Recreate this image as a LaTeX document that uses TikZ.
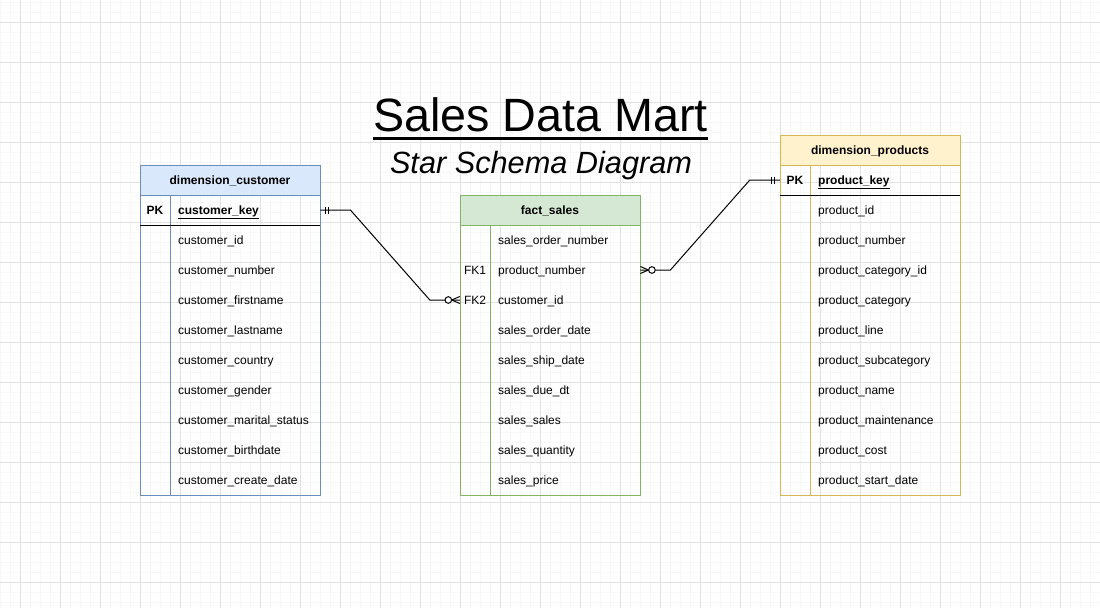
\documentclass[tikz,border=0pt]{standalone}
\usepackage{fontspec}
\setmainfont{Liberation Sans}
\usetikzlibrary{calc}
\definecolor{bluefill}{HTML}{DAE8FC}
\definecolor{bluedraw}{HTML}{6C8EBF}
\definecolor{greenfill}{HTML}{D5E8D4}
\definecolor{greendraw}{HTML}{82B366}
\definecolor{yellowfill}{HTML}{FFF2CC}
\definecolor{yellowdraw}{HTML}{D6B656}
\definecolor{gridmajor}{HTML}{E2E2E2}
\definecolor{gridminor}{HTML}{F7F7F7}
\begin{document}
\begin{tikzpicture}[x=1pt,y=-1pt,
  hdr/.style={minimum width=180pt, minimum height=30pt, inner sep=0pt, text height=9pt, text depth=0pt, font=\fontsize{12}{14}\selectfont\bfseries},
  field/.style={anchor=west, minimum width=150pt, minimum height=30pt, inner xsep=8pt, inner ysep=0pt, text width=134pt, align=left, text height=9pt, text depth=0pt, font=\fontsize{12}{14}\selectfont},
  keycol/.style={minimum width=30pt, minimum height=30pt, inner sep=0pt, text height=9pt, text depth=0pt, font=\fontsize{12}{14}\selectfont},
  frame/.style={minimum width=180pt, anchor=north west, inner sep=0pt},
  conn/.style={draw=black, line width=1pt},
  cardmark/.style={draw=black, line width=1pt},
]
\useasboundingbox (0,0) rectangle (1100,608);
\fill[white] (0,0) rectangle (1100,608);
% grid
\foreach \x in {0,10,...,1100} \draw[gridminor, line width=1pt] (\x,0) -- (\x,608);
\foreach \y in {2,12,...,602} \draw[gridminor, line width=1pt] (0,\y) -- (1100,\y);
\foreach \x in {20,60,...,1100} \draw[gridmajor, line width=1pt] (\x,0) -- (\x,608);
\foreach \y in {22,62,...,602} \draw[gridmajor, line width=1pt] (0,\y) -- (1100,\y);

% title
\node[anchor=base, inner sep=0pt, font=\fontsize{46.7}{50}\selectfont] (title) at (540.5,131) {Sales Data Mart};
\draw[line width=3pt] ([yshift=-7.5pt]title.base west) -- ([yshift=-7.5pt]title.base east);
\node[anchor=base, inner sep=0pt, font=\fontsize{30.7}{34}\selectfont\itshape] (subtitle) at (541,173) {Star Schema Diagram};

% ---------- dimension_customer ----------
\node[frame, draw=bluedraw, minimum height=330pt] (custframe) at (140,165) {};
\node[hdr, fill=bluefill, draw=bluedraw] (custhdr) at (230,180) {dimension\_customer};
\draw[bluedraw, line width=1pt] (170,195) -- (170,495);
\draw[black, line width=1pt] (140,225) -- (320,225);
\node[keycol, font=\fontsize{12}{14}\selectfont\bfseries] (cpk) at (155,210) {PK};
\node[field] (ck) at (170,210) {\underline{\textbf{customer\_key}}};
\foreach \t [count=\i] in {customer\_id, customer\_number, customer\_firstname, customer\_lastname, customer\_country, customer\_gender, customer\_marital\_status, customer\_birthdate, customer\_create\_date}
  \node[field] (c\i) at (170,210+30*\i) {\t};

% ---------- fact_sales ----------
\node[frame, draw=greendraw, minimum height=300pt] (factframe) at (460,195) {};
\node[hdr, fill=greenfill, draw=greendraw] (facthdr) at (550,210) {fact\_sales};
\draw[greendraw, line width=1pt] (490,225) -- (490,495);
\node[keycol] (fk1) at (475,270) {FK1};
\node[keycol] (fk2) at (475,300) {FK2};
\foreach \t [count=\i] in {sales\_order\_number, product\_number, customer\_id, sales\_order\_date, sales\_ship\_date, sales\_due\_dt, sales\_sales, sales\_quantity, sales\_price}
  \node[field] (f\i) at (490,210+30*\i) {\t};

% ---------- dimension_products ----------
\node[frame, draw=yellowdraw, minimum height=360pt] (prodframe) at (780,135) {};
\node[hdr, fill=yellowfill, draw=yellowdraw] (prodhdr) at (870,150) {dimension\_products};
\draw[yellowdraw, line width=1pt] (810,165) -- (810,495);
\draw[black, line width=1pt] (780,195) -- (960,195);
\node[keycol, font=\fontsize{12}{14}\selectfont\bfseries] (ppk) at (795,180) {PK};
\node[field] (pk) at (810,180) {\underline{\textbf{product\_key}}};
\foreach \t [count=\i] in {product\_id, product\_number, product\_category\_id, product\_category, product\_line, product\_subcategory, product\_name, product\_maintenance, product\_cost, product\_start\_date}
  \node[field] (p\i) at (810,180+30*\i) {\t};

% ---------- connectors ----------
\draw[conn] (ck.east) -- ++(30,0) -- ($(fk2.west)+(-30,0)$) -- (fk2.west);
\draw[conn] (f2.east) -- ++(30,0) -- ($(ppk.west)+(-30,0)$) -- (ppk.west);

% one (mandatory) marks
\draw[cardmark] ($(ck.east)+(5,-3.5)$) -- ($(ck.east)+(5,3.5)$);
\draw[cardmark] ($(ck.east)+(8,-3.5)$) -- ($(ck.east)+(8,3.5)$);
\draw[cardmark] ($(ppk.west)+(-5,-3.5)$) -- ($(ppk.west)+(-5,3.5)$);
\draw[cardmark] ($(ppk.west)+(-8,-3.5)$) -- ($(ppk.west)+(-8,3.5)$);

% zero-to-many marks
\draw[cardmark] ($(fk2.west)+(-8,0)$) -- ($(fk2.west)+(0,-3.5)$);
\draw[cardmark] ($(fk2.west)+(-8,0)$) -- ($(fk2.west)+(0,3.5)$);
\draw[cardmark, fill=white] ($(fk2.west)+(-11.5,0)$) circle[radius=3.3pt];
\draw[cardmark] ($(f2.east)+(8,0)$) -- ($(f2.east)+(0,-3.5)$);
\draw[cardmark] ($(f2.east)+(8,0)$) -- ($(f2.east)+(0,3.5)$);
\draw[cardmark, fill=white] ($(f2.east)+(11.5,0)$) circle[radius=3.3pt];
\end{tikzpicture}
\end{document}
